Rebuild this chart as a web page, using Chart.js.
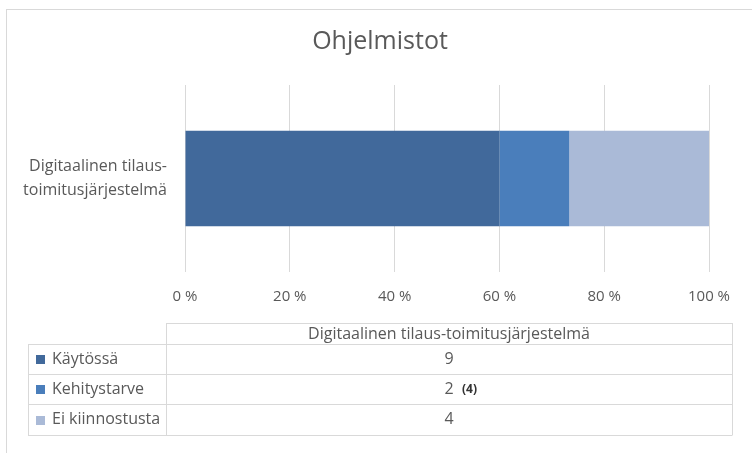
<!DOCTYPE html>
<html>
<head>
<meta charset="utf-8">
<script src="https://cdn.jsdelivr.net/npm/chart.js@4.4.1/dist/chart.umd.min.js"></script>
<style>
  html, body { margin: 0; padding: 0; background: #fff; }
  #wrap { position: relative; width: 752px; height: 453px; overflow: hidden; }
  #frame {
    position: absolute; left: 6px; top: 9px; width: 800px; height: 500px;
    border-left: 1px solid #d9d9d9; border-top: 1px solid #d9d9d9;
  }
  #chart { position: absolute; left: 0; top: 0; }
</style>
</head>
<body>
<div id="wrap">
  <div id="frame"></div>
  <canvas id="chart" width="752" height="453"></canvas>
</div>
<script>
// Chart data
const chartTitle = "Ohjelmistot";
const categoryLines = [["Digitaalinen tilaus-", "toimitusjärjestelmä"]];
const seriesNames = ["Käytössä", "Kehitystarve", "Ei kiinnostusta"];
const kaytossa = [9];
const kehitystarve = [2];
const eiKiinnostusta = [4];
const valueNotes = ["", "(4)", ""];
const percentTicks = [0, 20, 40, 60, 80, 100];

const seriesColors = ["#41699b", "#4a7ebb", "#aabad7"];
const FONT = "'Open Sans', sans-serif";
const TEXT_COLOR = "#595959";
const LINE_COLOR = "#d9d9d9";

const seriesCounts = [kaytossa, kehitystarve, eiKiinnostusta];

// 100 % stacking: each category's counts are scaled to its total
const totals = categoryLines.map((_, i) =>
  seriesCounts.reduce((sum, s) => sum + s[i], 0)
);
const datasets = seriesCounts.map((counts, k) => ({
  label: seriesNames[k],
  data: counts.map((v, i) => (v / totals[i]) * 100),
  counts: counts,
  backgroundColor: seriesColors[k],
  borderWidth: 0,
  barPercentage: 0.51,
  categoryPercentage: 1,
}));

// Title centred over the whole chart frame, not just the plot
const frameTitlePlugin = {
  id: "frameTitle",
  afterDraw(chart) {
    const ctx = chart.ctx;
    ctx.save();
    ctx.fillStyle = TEXT_COLOR;
    ctx.font = "25px " + FONT;
    ctx.textAlign = "center";
    ctx.textBaseline = "middle";
    ctx.fillText(chartTitle, 380, 42);
    ctx.restore();
  },
};

// Data table drawn under the plot, Excel style
const dataTablePlugin = {
  id: "dataTable",
  afterDraw(chart) {
    const ctx = chart.ctx;
    const left = 28, split = 166, right = 732;
    const top = 323, headerBottom = 344, rowH = 30.2;
    const bottom = headerBottom + rowH * seriesNames.length;
    const px = (v) => Math.round(v) + 0.5;

    ctx.save();
    ctx.strokeStyle = LINE_COLOR;
    ctx.lineWidth = 1;
    ctx.beginPath();
    // header cell
    ctx.moveTo(split, px(top)); ctx.lineTo(right, px(top));
    // row separators
    for (let r = 0; r <= seriesNames.length; r++) {
      const y = px(headerBottom + rowH * r);
      ctx.moveTo(left, y); ctx.lineTo(right, y);
    }
    ctx.moveTo(px(left), headerBottom); ctx.lineTo(px(left), px(bottom));
    ctx.moveTo(px(split), top); ctx.lineTo(px(split), px(bottom));
    ctx.moveTo(px(right), top); ctx.lineTo(px(right), px(bottom));
    ctx.stroke();

    const midX = (split + right) / 2;
    ctx.fillStyle = TEXT_COLOR;
    ctx.textBaseline = "middle";
    ctx.font = "16px " + FONT;
    ctx.textAlign = "center";
    ctx.fillText(categoryLines[0].join(""), midX, (top + headerBottom) / 2 + 1);

    chart.data.datasets.forEach((ds, r) => {
      const cy = headerBottom + rowH * r + rowH / 2;
      // legend key
      ctx.fillStyle = ds.backgroundColor;
      ctx.fillRect(36, Math.round(cy - 4), 9, 9);
      ctx.fillStyle = TEXT_COLOR;
      ctx.font = "16px " + FONT;
      ctx.textAlign = "left";
      ctx.fillText(ds.label, 52, cy);
      ctx.textAlign = "center";
      ctx.fillText(String(ds.counts[0]), midX, cy);
      if (valueNotes[r]) {
        ctx.fillStyle = "#333";
        ctx.font = "bold 12px " + FONT;
        ctx.textAlign = "left";
        ctx.fillText(valueNotes[r], 462, cy);
      }
    });
    ctx.restore();
  },
};

const ctx = document.getElementById("chart").getContext("2d");
new Chart(ctx, {
  type: "bar",
  data: { labels: categoryLines, datasets: datasets },
  options: {
    indexAxis: "y",
    responsive: false,
    animation: false,
    devicePixelRatio: 1,
    layout: { padding: { left: 0, right: 43, top: 85, bottom: 0 } },
    plugins: {
      legend: { display: false },
      tooltip: { enabled: false },
      title: { display: false },
    },
    scales: {
      x: {
        stacked: true,
        min: 0,
        max: 100,
        afterBuildTicks(scale) {
          scale.ticks = percentTicks.map((v) => ({ value: v }));
        },
        afterFit(scale) {
          scale.height = 453 - 272;
        },
        grid: { color: LINE_COLOR, drawTicks: false },
        border: { display: false },
        ticks: {
          padding: 16,
          color: TEXT_COLOR,
          font: { family: FONT, size: 15 },
          callback: (v) => v + " %",
        },
      },
      y: {
        stacked: true,
        afterFit(scale) {
          scale.width = 185;
        },
        grid: { display: false, drawTicks: false },
        border: { display: false },
        ticks: {
          padding: 18,
          color: TEXT_COLOR,
          font: { family: FONT, size: 16, lineHeight: 1.45 },
        },
      },
    },
  },
  plugins: [frameTitlePlugin, dataTablePlugin],
});
</script>
</body>
</html>
